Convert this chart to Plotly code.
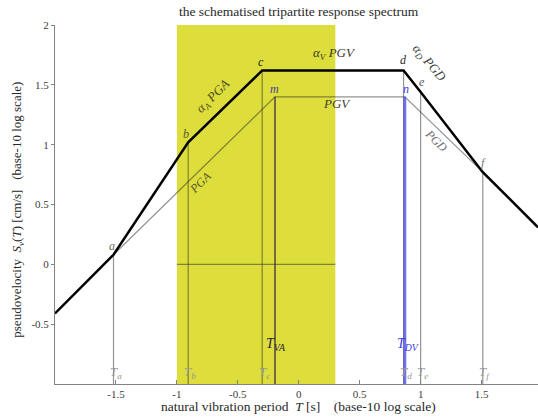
import plotly.graph_objects as go

# ---- data (log10 period T, log10 pseudovelocity Sv) ----
point_names = ["a", "b", "c", "d", "e", "f"]
point_T = [-1.52, -0.907, -0.30, 0.86, 1.0, 1.51]
point_S = [0.08, 1.02, 1.62, 1.62, 1.44, 0.77]

spectrum_T = [-2.0, -1.52, -0.907, -0.30, 0.86, 1.0, 1.51, 1.963]
spectrum_S = [-0.41, 0.08, 1.02, 1.62, 1.62, 1.44, 0.77, 0.31]

ground_T = [-1.52, -0.195, 0.87, 1.51]      # PGA -> m -> n -> PGD
ground_S = [0.08, 1.40, 1.40, 0.77]

T_VA = -0.195
T_DV = 0.87
PGV = 1.40

band_T = [-1.0, 0.3]
S_range = [-1.0, 2.0]
T_range = [-2.0, 1.963]

x_ticks = [-1.5, -1.0, -0.5, 0.0, 0.5, 1.0, 1.5]
x_ticklabels = ["-1.5", "-1", "-0.5", "0", "0.5", "1", "1.5"]
y_ticks = [-0.5, 0.0, 0.5, 1.0, 1.5, 2.0]
y_ticklabels = ["-0.5", "0", "0.5", "1", "1.5", "2"]

SERIF = "Liberation Serif"
YELLOW = "rgb(221,221,60)"
TRANS_GRAY = "rgba(40,40,40,0.5)"
SP = "\u00a0"

fig = go.Figure()

# yellow band
fig.add_trace(go.Scatter(
    x=[band_T[0], band_T[1], band_T[1], band_T[0], band_T[0]],
    y=[S_range[0], S_range[0], S_range[1], S_range[1], S_range[0]],
    fill="toself", fillcolor=YELLOW, mode="lines", line=dict(width=0),
    hoverinfo="skip", showlegend=False))

# vertical drop lines at corner periods
vx, vy = [], []
for t, s in zip(point_T, point_S):
    vx += [t, t, None]
    vy += [S_range[0], s, None]
fig.add_trace(go.Scatter(x=vx, y=vy, mode="lines",
                         line=dict(color=TRANS_GRAY, width=1.2),
                         hoverinfo="skip", showlegend=False))

# horizontal zero line in band
fig.add_trace(go.Scatter(x=band_T, y=[0, 0], mode="lines",
                         line=dict(color=TRANS_GRAY, width=1.2),
                         hoverinfo="skip", showlegend=False))

# ground-motion (PGA / PGV / PGD) line
fig.add_trace(go.Scatter(x=ground_T, y=ground_S, mode="lines",
                         line=dict(color=TRANS_GRAY, width=1.2),
                         hoverinfo="skip", showlegend=False))

# T_VA line
fig.add_trace(go.Scatter(x=[T_VA, T_VA], y=[S_range[0], PGV], mode="lines",
                         line=dict(color="rgba(60,40,70,0.85)", width=1.5),
                         hoverinfo="skip", showlegend=False))
# T_DV line
fig.add_trace(go.Scatter(x=[T_DV, T_DV], y=[S_range[0], PGV], mode="lines",
                         line=dict(color="rgba(70,70,225,0.75)", width=3),
                         hoverinfo="skip", showlegend=False))

# spectrum
fig.add_trace(go.Scatter(x=spectrum_T, y=spectrum_S, mode="lines",
                         line=dict(color="black", width=2.5),
                         hoverinfo="skip", showlegend=False))

ann = []
label_colors = ["rgb(110,110,90)", "rgb(90,90,40)", "rgb(30,30,30)",
                "rgb(40,40,40)", "rgb(90,90,90)", "rgb(120,120,120)"]
label_shift = [(-2, 9), (-2, 8), (-1, 8), (0, 10), (1, 10), (1, 9)]
for n_, t, s, c, (dx, dy) in zip(point_names, point_T, point_S, label_colors, label_shift):
    ann.append(dict(x=t, y=s, text="<i>%s</i>" % n_, showarrow=False,
                    xshift=dx, yshift=dy, font=dict(family=SERIF, size=12, color=c)))
ann.append(dict(x=T_VA, y=PGV, text="<i>m</i>", showarrow=False, xshift=0, yshift=8,
                font=dict(family=SERIF, size=12, color="rgb(70,60,150)")))
ann.append(dict(x=T_DV, y=PGV, text="<i>n</i>", showarrow=False, xshift=1, yshift=8,
                font=dict(family=SERIF, size=12, color="rgb(60,60,220)")))

# period labels at bottom
for n_, t in zip(point_names, point_T):
    ann.append(dict(x=t, y=S_range[0], text="<i>T<sub>%s</sub></i>" % n_, showarrow=False,
                    xshift=2, yshift=12, font=dict(family=SERIF, size=13, color="rgb(150,150,150)")))
ann.append(dict(x=T_VA, y=S_range[0], text="<i>T<sub>VA</sub></i>", showarrow=False,
                xshift=1, yshift=40, font=dict(family=SERIF, size=14, color="rgb(45,35,55)")))
ann.append(dict(x=T_DV, y=S_range[0], text="<i>T<sub>DV</sub></i>", showarrow=False,
                xshift=3, yshift=40, font=dict(family=SERIF, size=14, color="rgb(60,60,225)")))

# line labels
ann.append(dict(x=-0.70, y=1.40, text="<i>α<sub>A</sub> PGA</i>", showarrow=False, textangle=-45,
                font=dict(family=SERIF, size=13, color="rgb(80,80,30)")))
ann.append(dict(x=0.295, y=1.76, text="<i>α<sub>V</sub> PGV</i>", showarrow=False,
                font=dict(family=SERIF, size=13, color="rgb(60,60,30)")))
ann.append(dict(x=1.07, y=1.68, text="<i>α<sub>D</sub> PGD</i>", showarrow=False, textangle=50,
                font=dict(family=SERIF, size=13, color="rgb(60,60,60)")))
ann.append(dict(x=-0.81, y=0.68, text="<i>PGA</i>", showarrow=False, textangle=-45,
                font=dict(family=SERIF, size=12, color="rgb(90,90,40)")))
ann.append(dict(x=0.31, y=1.34, text="<i>PGV</i>", showarrow=False,
                font=dict(family=SERIF, size=13, color="rgb(70,70,50)")))
ann.append(dict(x=1.13, y=1.03, text="<i>PGD</i>", showarrow=False, textangle=45,
                font=dict(family=SERIF, size=12, color="rgb(110,110,110)")))

# title
ann.append(dict(x=0.0, y=S_range[1], text="the schematised tripartite response spectrum",
                showarrow=False, yshift=14,
                font=dict(family=SERIF, size=13.5, color="rgb(40,40,40)")))

# axis titles
ann.append(dict(xref="x", yref="paper", x=0.0, y=-0.064, yanchor="middle",
                text="natural vibration period" + SP * 2 + "<i>T</i> [s]" + SP * 4 + "(base-10 log scale)",
                showarrow=False, font=dict(family=SERIF, size=13.5, color="rgb(40,40,40)")))
ann.append(dict(xref="paper", yref="paper", x=-0.077, y=0.485, xanchor="center", yanchor="middle",
                textangle=-90,
                text="pseudovelocity" + SP * 2 + "<i>S<sub>v</sub></i>(<i>T</i>) [cm/s]" + SP * 3 + "(base-10 log scale)",
                showarrow=False, font=dict(family=SERIF, size=13, color="rgb(40,40,40)")))

fig.update_layout(
    width=538, height=419,
    margin=dict(l=55, r=0, t=25, b=35, autoexpand=False),
    paper_bgcolor="white", plot_bgcolor="white",
    showlegend=False,
    annotations=ann,
    font=dict(family=SERIF, size=10, color="rgb(60,60,60)"),
    xaxis=dict(range=T_range, tickvals=x_ticks, ticktext=x_ticklabels, automargin=False,
               showgrid=False, zeroline=False, showline=True,
               linecolor="rgb(130,130,130)", linewidth=1,
               ticks="inside", ticklen=4, tickcolor="rgb(130,130,130)",
               tickfont=dict(family=SERIF, size=11, color="rgb(60,60,60)")),
    yaxis=dict(range=S_range, tickvals=y_ticks, ticktext=y_ticklabels, automargin=False,
               showgrid=False, zeroline=False, showline=True,
               linecolor="rgb(130,130,130)", linewidth=1,
               ticks="outside", ticklen=3, tickcolor="rgb(130,130,130)",
               tickfont=dict(family=SERIF, size=11, color="rgb(60,60,60)")),
)

fig.write_html("out.html", config={"displayModeBar": False},
               post_script="document.body.style.margin='0';")
